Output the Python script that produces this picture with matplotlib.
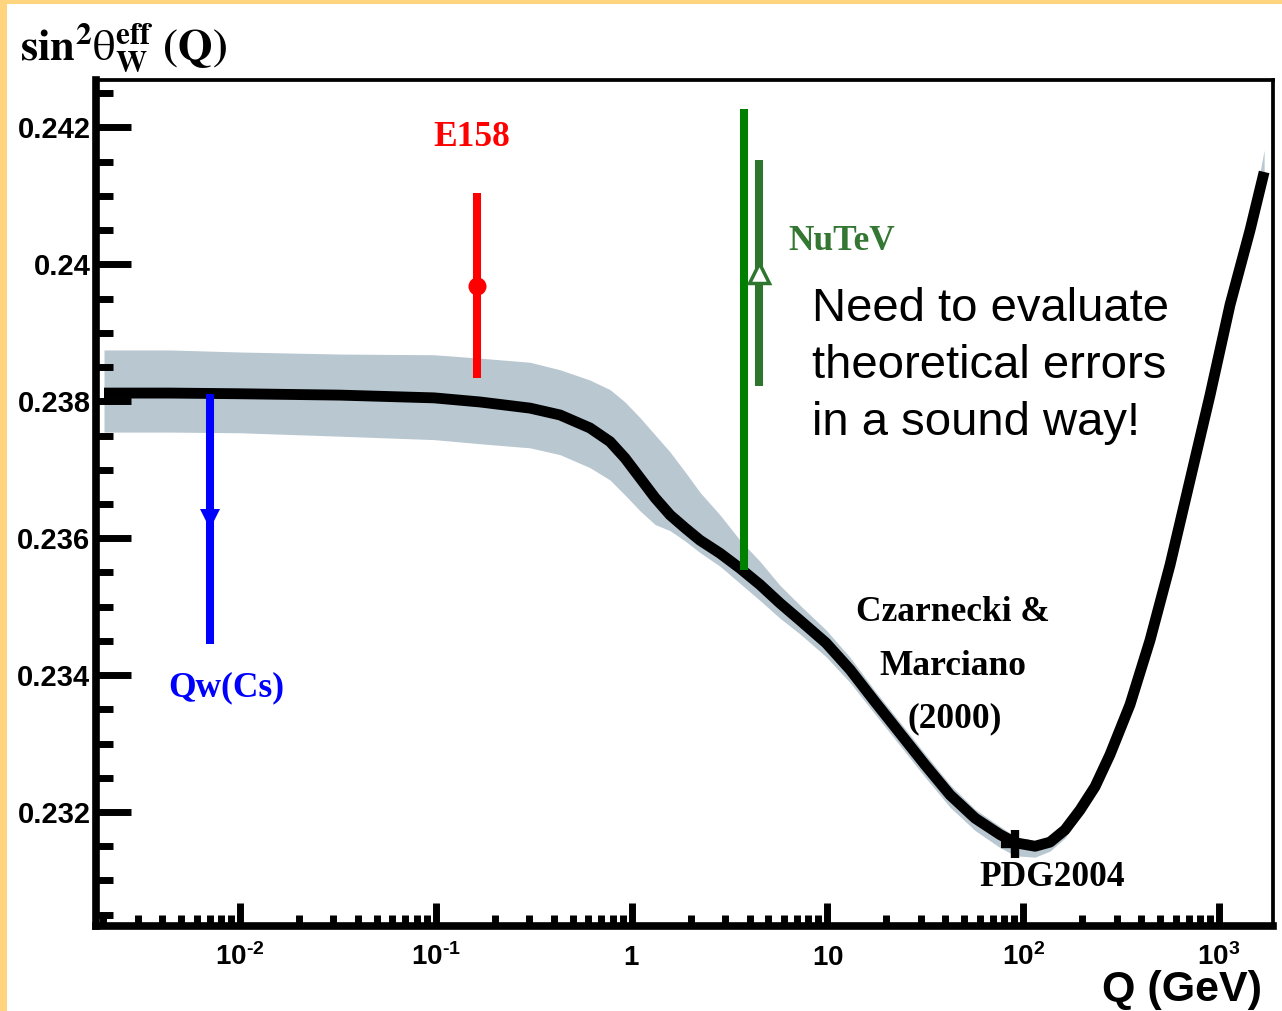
import numpy as np
import matplotlib
matplotlib.use('Agg')
import matplotlib.pyplot as plt
import matplotlib.transforms as mtransforms
from matplotlib.patches import Rectangle
from matplotlib.ticker import FixedLocator, MultipleLocator, LogLocator, NullFormatter

plt.rcParams['mathtext.fontset'] = 'custom'
plt.rcParams['mathtext.bf'] = 'Liberation Sans:bold'
plt.rcParams['mathtext.rm'] = 'Liberation Sans'

## running sin^2 theta_W (Czarnecki & Marciano): central value and theory errors
q_curve = [0.00202, 0.00439, 0.01, 0.0324, 0.0979, 0.168, 0.303, 0.431, 0.613, 0.776,
           0.925, 1.104, 1.317, 1.571, 1.874, 2.235, 2.828, 3.578, 4.528, 5.728,
           7.247, 9.836, 13.05, 17.50, 23.49, 31.51, 42.28, 56.74, 76.12, 91.19,
           114.9, 137.1, 163.5, 195.1, 232.7, 277.6, 351.2, 444.2, 562.1, 711.1,
           899.5, 1138, 1440, 1700]
s2w_curve = [0.23812, 0.23812, 0.23811, 0.23809, 0.23805, 0.23799, 0.23790, 0.23780,
             0.23761, 0.23741, 0.23717, 0.23688, 0.23659, 0.23634, 0.23615, 0.23597,
             0.23578, 0.23556, 0.23532, 0.23505, 0.23480, 0.23447, 0.23408, 0.23361,
             0.23315, 0.23269, 0.23225, 0.23191, 0.23167, 0.23155, 0.23150, 0.23156,
             0.23174, 0.23203, 0.23237, 0.23284, 0.23357, 0.23451, 0.23561, 0.23685,
             0.23809, 0.23941, 0.24050, 0.24135]
s2w_err_up = [0.00063, 0.00063, 0.00061, 0.00060, 0.00063, 0.00064, 0.00067, 0.00066,
              0.00070, 0.00076, 0.00082, 0.00088, 0.00092, 0.00092, 0.00082, 0.00070,
              0.00056, 0.00041, 0.00034, 0.00026, 0.00022, 0.00019, 0.00018, 0.00016,
              0.00016, 0.00016, 0.00015, 0.00013, 0.00012, 0.00009, 0.00006, 0.00006,
              0.00004, 0.00004, 0.00004, 0.00004, 0.00004, 0.00004, 0.00004, 0.00004,
              0.00004, 0.00004, 0.00007, 0.00032]
s2w_err_dn = [0.00057, 0.00057, 0.00057, 0.00060, 0.00061, 0.00061, 0.00058, 0.00058,
              0.00058, 0.00056, 0.00054, 0.00048, 0.00039, 0.00023, 0.00019, 0.00018,
              0.00019, 0.00022, 0.00023, 0.00022, 0.00020, 0.00020, 0.00019, 0.00018,
              0.00018, 0.00018, 0.00018, 0.00018, 0.00019, 0.00019, 0.00016, 0.00013,
              0.00012, 0.00009, 0.00007, 0.00006, 0.00004, 0.00004, 0.00004, 0.00004,
              0.00004, 0.00004, 0.00004, 0.00012]

## measurements: (Q, value, error)
cs_q, cs_val, cs_err = 0.00703, 0.23628, 0.00182
e158_q, e158_val, e158_err = 0.162, 0.23969, 0.00135
nutev_q, nutev_val, nutev_err = 4.47, 0.23988, 0.00165
nutev2_q, nutev2_val, nutev2_err = 3.75, 0.23890, 0.00337
pdg_q, pdg_val = 91.19, 0.23153

y_ticks = [0.232, 0.234, 0.236, 0.238, 0.240, 0.242]
y_ticklabels = ['0.232', '0.234', '0.236', '0.238', '0.24', '0.242']
x_ticks = [0.01, 0.1, 1, 10, 100, 1000]
x_ticklabels = ['$\\mathbf{10^{\u20102}}$', '$\\mathbf{10^{\u20101}}$', '$\\mathbf{1}$',
                '$\\mathbf{10}$', '$\\mathbf{10^{2}}$', '$\\mathbf{10^{3}}$']

fig = plt.figure(figsize=(12.82, 10.11), dpi=100)
fig.add_artist(Rectangle((0, 1 - 4 / 1011), 1, 4 / 1011, transform=fig.transFigure,
                         color='#ffd47e', lw=0))
fig.add_artist(Rectangle((0, 0), 7 / 1282, 1, transform=fig.transFigure,
                         color='#ffd47e', lw=0))

ax = fig.add_axes([0.0749, 0.0841, 0.9181, 0.8368])
ax.set_xscale('log')
ax.set_xlim(0.001839, 1887)
ax.set_ylim(0.230335, 0.242694)

curve = np.array(s2w_curve)
ax.fill_between(q_curve, curve - np.array(s2w_err_dn), curve + np.array(s2w_err_up),
                color='#b9c7d1', lw=0, zorder=1)
ax.plot(q_curve, curve, color='black', lw=7.8, solid_capstyle='butt',
        solid_joinstyle='round', zorder=2)
ax.plot([pdg_q], [pdg_val], marker='+', color='black', ms=20, mew=6, zorder=3)

bar = dict(elinewidth=5.8, capsize=0, zorder=4)
ax.errorbar(cs_q, cs_val, yerr=cs_err, fmt='v', color='#0000ff', ms=14, mew=0, **bar)
ax.errorbar(e158_q, e158_val, yerr=e158_err, fmt='o', color='#ff0000', ms=13, mew=0, **bar)
ax.errorbar(nutev2_q, nutev2_val, yerr=nutev2_err, fmt='none', ecolor='#008000', **bar)
ax.errorbar(nutev_q, nutev_val, yerr=nutev_err, fmt='^', color='#2e752e', mfc='white',
            mec='#2e752e', ms=15, mew=2.5, **bar)

lab = dict(family='Liberation Serif', fontweight='bold', fontsize=25.5, ha='center', va='center')
ax.text(0.153, 0.24186, 'E158', color='#ff0000', **lab)
ax.text(0.00849, 0.23381, 'Qw(Cs)', color='#0000ff', **lab)
ax.text(6.29, 0.24033, 'NuTeV', color='#337733', **{**lab, 'ha': 'left'})
ax.text(43.8, 0.23491, 'Czarnecki &', color='black', **lab)
ax.text(43.8, 0.23413, 'Marciano', color='black', **lab)
ax.text(44.5, 0.23336, '(2000)', color='black', **lab)
ax.text(140, 0.23105, 'PDG2004', color='black', **lab)

note = dict(family='Liberation Sans', fontsize=34, ha='left', va='baseline', color='black')
ax.text(8.34, 0.239173, 'Need to evaluate', **note)
ax.text(8.34, 0.238341, 'theoretical errors', **note)
ax.text(8.34, 0.237509, 'in a sound way!', **note)

# axis frame: thick left/bottom like ROOT, thinner top/right
for side, w in [('left', 5.5), ('bottom', 5.5), ('top', 2.7), ('right', 2.7)]:
    ax.spines[side].set_linewidth(w)
    ax.spines[side].set_capstyle('projecting')

ax.yaxis.set_major_locator(FixedLocator(y_ticks))
ax.yaxis.set_minor_locator(MultipleLocator(0.0005))
ax.set_yticklabels(y_ticklabels, fontsize=21, fontweight='bold', family='Liberation Sans')
ax.tick_params(axis='y', which='major', direction='in', length=25, width=5, pad=4)
ax.tick_params(axis='y', which='minor', direction='in', length=12, width=5)

ax.xaxis.set_major_locator(FixedLocator(x_ticks))
ax.xaxis.set_minor_locator(LogLocator(base=10, subs=np.arange(2, 10), numticks=50))
ax.xaxis.set_minor_formatter(NullFormatter())
ax.set_xticklabels([''] * len(x_ticks))
ax.tick_params(axis='x', which='major', direction='in', length=16.5, width=5)
ax.tick_params(axis='x', which='minor', direction='in', length=8, width=5)

trans = mtransforms.blended_transform_factory(ax.transData, ax.transAxes)
for xv, s in zip(x_ticks, x_ticklabels):
    ax.text(xv, -0.0461, s, transform=trans, fontsize=20, ha='center', va='baseline')

fig.text(20 / 1282, 1 - 48 / 1011,
         r'$\mathbf{sin}^{\mathbf{2}}\mathrm{\theta}^{\mathbf{eff}}_{\mathbf{W}}\ \mathbf{(Q)}$',
         fontsize=32, math_fontfamily='stix', va='center', ha='left')
fig.text(1262 / 1282, 1 - 990 / 1011, 'Q (GeV)', fontsize=31, fontweight='bold',
         family='Liberation Sans', ha='right', va='center')

fig.savefig('out.png', dpi=100)
